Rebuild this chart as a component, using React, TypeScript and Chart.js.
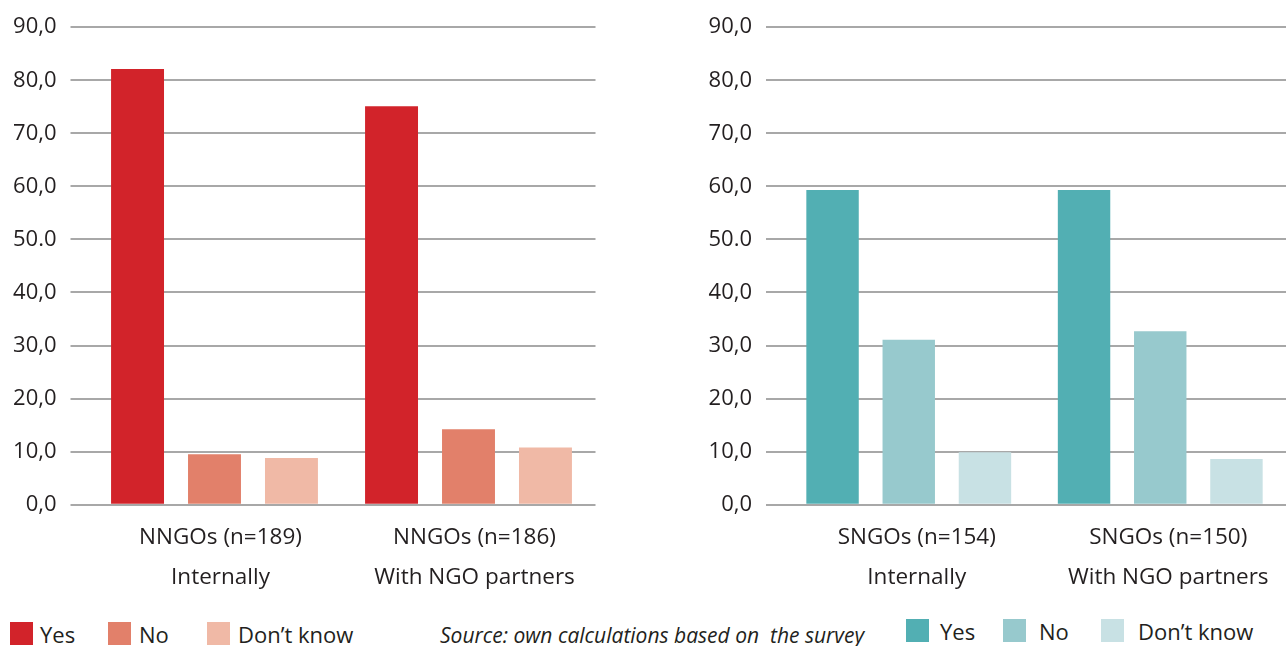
import React, { useEffect, useRef } from "react";
import { Chart, registerables } from "chart.js";

Chart.register(...registerables);

const leftCategories = [["NNGOs (n=189)", "Internally"], ["NNGOs (n=186)", "With NGO partners"]];
const rightCategories = [["SNGOs (n=154)", "Internally"], ["SNGOs (n=150)", "With NGO partners"]];
const seriesNames = ["Yes", "No", "Don’t know"];

const leftYes = [82.1, 75.1];
const leftNo = [9.5, 14.2];
const leftDontKnow = [8.8, 10.8];

const rightYes = [59.3, 59.3];
const rightNo = [31.1, 32.7];
const rightDontKnow = [9.9, 8.6];

const yTickLabels = ["0,0", "10,0", "20,0", "30,0", "40,0", "50.0", "60,0", "70,0", "80,0", "90,0"];

const leftColors = ["#d2232a", "#e2806a", "#f0b9a6"];
const rightColors = ["#52afb3", "#97c9cd", "#c8e1e4"];

const FONT = "'Open Sans', sans-serif";
const TEXT = "#231f20";

function makeConfig(labels: any, values: number[][], colors: string[], yWidth: number, padRight: number, labelShift: number): any {
  return {
    type: "bar",
    data: {
      labels,
      datasets: values.map((v, i) => ({
        label: seriesNames[i],
        data: v,
        backgroundColor: colors[i],
        borderWidth: 0,
        categoryPercentage: 0.909,
        barPercentage: 0.688,
      })),
    },
    options: {
      responsive: false,
      animation: false,
      layout: { padding: { top: 24.7, right: padRight, left: 0, bottom: 0 } },
      plugins: { legend: { display: false }, tooltip: { enabled: false } },
      scales: {
        x: {
          grid: { display: false, drawTicks: false },
          border: { display: false },
          ticks: {
            color: TEXT,
            font: { family: FONT, size: 22.5, lineHeight: 1.76 },
            padding: 13,
            maxRotation: 0,
            labelOffset: labelShift,
          },
          afterFit: (s: any) => {
            s.height = 95.3;
          },
        },
        y: {
          min: 0,
          max: 90,
          border: { display: false },
          grid: { color: "#a8a8a8", lineWidth: 2, tickLength: 17, drawTicks: true },
          ticks: {
            stepSize: 10,
            color: TEXT,
            padding: 14,
            font: { family: FONT, size: 22 },
            callback: (_v: any, i: number) => yTickLabels[i],
          },
          afterFit: (s: any) => {
            s.width = yWidth;
          },
        },
      },
    },
  };
}

function BarChart({ config, style, width, height }: any) {
  const ref = useRef<HTMLCanvasElement>(null);
  useEffect(() => {
    const chart = new Chart(ref.current as HTMLCanvasElement, config);
    return () => chart.destroy();
  }, []);
  return <canvas ref={ref} width={width} height={height} style={{ position: "absolute", ...style, width, height }} />;
}

function Legend({ colors, top, squareXs, textXs }: any) {
  return (
    <>
      {seriesNames.map((n, i) => (
        <React.Fragment key={n}>
          <div style={{ position: "absolute", left: squareXs[i], top, width: 23, height: 23, background: colors[i] }} />
          <div
            style={{
              position: "absolute",
              left: textXs[i],
              top: top - 3,
              fontFamily: FONT,
              fontSize: 22,
              lineHeight: "30px",
              color: TEXT,
              whiteSpace: "nowrap",
            }}
          >
            {n}
          </div>
        </React.Fragment>
      ))}
    </>
  );
}

export default function App() {
  const left = makeConfig(leftCategories, [leftYes, leftNo, leftDontKnow], leftColors, 87.5, 4.5, 6);
  const right = makeConfig(rightCategories, [rightYes, rightNo, rightDontKnow], rightColors, 143, 2, 8);
  return (
    <div style={{ position: "absolute", left: 0, top: 0, width: 1288, height: 646, background: "#fff", overflow: "hidden" }}>
      <BarChart config={left} width={600} height={600} style={{ left: 0, top: 0 }} />
      <BarChart config={right} width={648} height={600} style={{ left: 640, top: 0 }} />
      <Legend colors={leftColors} top={622} squareXs={[10, 108, 207]} textXs={[40, 139, 238]} />
      <Legend colors={rightColors} top={619} squareXs={[906, 1003, 1101]} textXs={[940, 1039, 1138]} />
      <div
        style={{
          position: "absolute",
          left: 440,
          top: 620,
          fontFamily: FONT,
          fontStyle: "italic",
          fontSize: 21,
          lineHeight: "30px",
          color: TEXT,
          whiteSpace: "pre",
        }}
      >
        {"Source: own calculations based on  the survey"}
      </div>
    </div>
  );
}
